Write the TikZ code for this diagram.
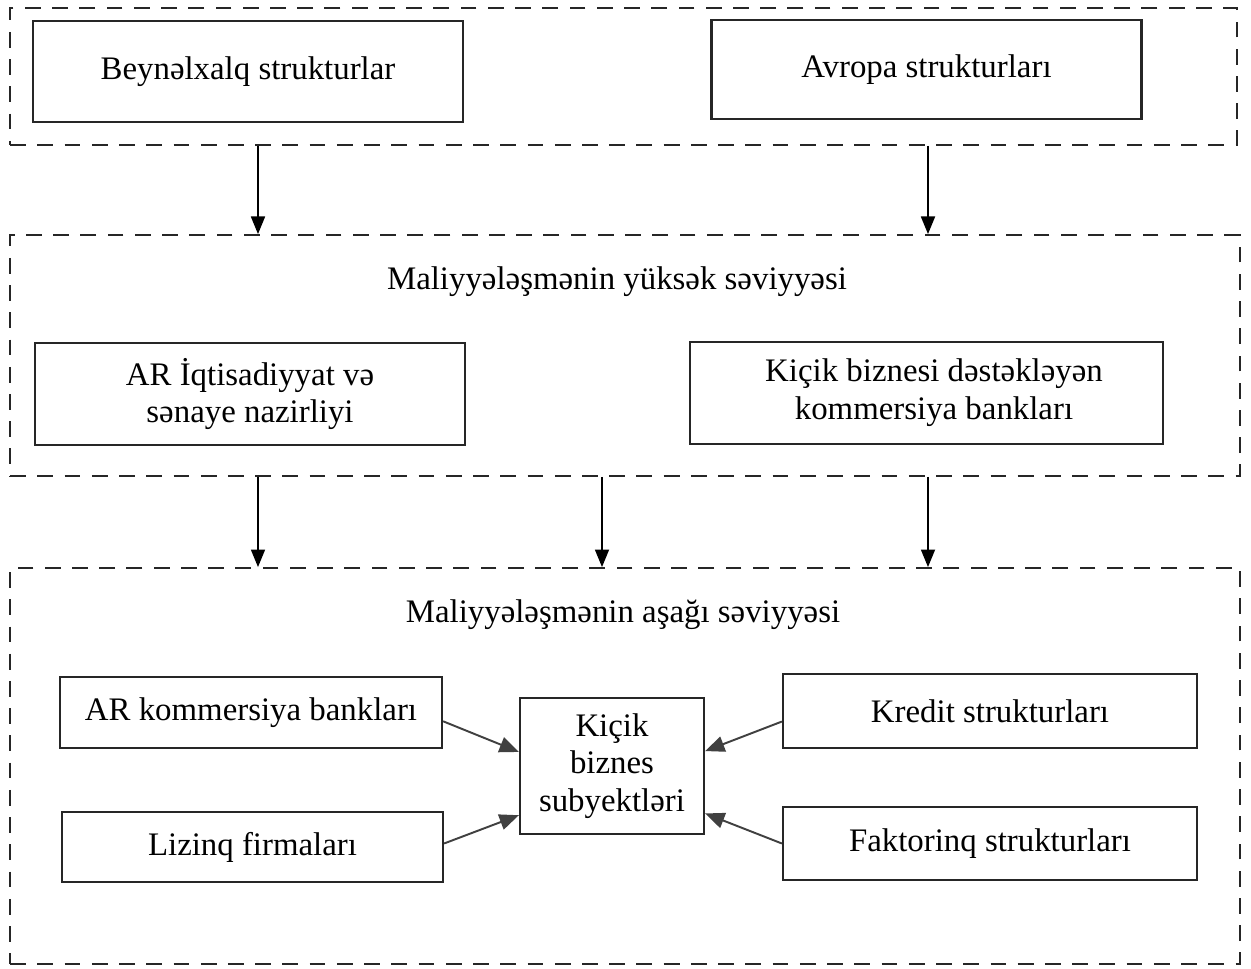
\documentclass[tikz,border=0pt]{standalone}
\usepackage{fontspec}
\setmainfont{Liberation Serif}
\usepackage{tikz}
\usetikzlibrary{arrows.meta}
\usetikzlibrary{shapes}

\tikzset{
  zone/.style={draw=black!85, line width=1.1pt, dash pattern=on 9pt off 6.5pt, inner sep=0pt},
  box/.style={draw=black!85, line width=1.3pt, fill=white, align=center, inner sep=0pt,
    font=\fontsize{18.7}{21.5}\selectfont},
  title/.style={font=\fontsize{18.7}{21.5}\selectfont},
  arr/.style={line width=0.9pt, -{Triangle[length=10pt,width=8pt]}},
  slant/.style={line width=1.1pt, draw=black!75, -{Triangle[length=11pt,width=9pt]}}
}

\begin{document}
\begin{tikzpicture}[x=0.02cm, y=-0.02cm]
\useasboundingbox (0,0) rectangle (1251,969);
% zones
\node[zone, minimum width=24.54cm, minimum height=2.74cm] (zoneA) at (623.5,76.5) {};
\node[zone, minimum width=24.6cm, minimum height=4.82cm] (zoneB) at (625,355.5) {};
\node[zone, minimum width=24.6cm, minimum height=7.92cm] (zoneC) at (625,766) {};
\coordinate (colA) at (258,0);
\coordinate (colB) at (602,0);
\coordinate (colC) at (928,0);
% top level
\node[box, minimum width=8.6cm, minimum height=2.02cm] (intl) at (248,71.5) {Beynəlxalq strukturlar};
\node[box, minimum width=8.6cm, minimum height=1.98cm] (euro) at (926.5,69.5) {Avropa strukturları};
% high level
\node[title] (highT) at (617,282) {Maliyyələşmənin yüksək səviyyəsi};
\node[box, minimum width=8.6cm, minimum height=2.04cm] (ministry) at (250,394) {AR İqtisadiyyat və\\sənaye nazirliyi};
\node[box, minimum width=9.46cm, minimum height=2.04cm] (smeBanks) at (926.5,393) {\hspace{0.3cm}Kiçik biznesi dəstəkləyən\\\hspace{0.3cm}kommersiya bankları};
% low level
\node[title] (lowT) at (623,615) {Maliyyələşmənin aşağı səviyyəsi};
\node[box, minimum width=7.64cm, minimum height=1.42cm] (arBanks) at (251,712.5) {AR kommersiya bankları};
\node[box, minimum width=7.62cm, minimum height=1.4cm] (leasing) at (252.5,847) {Lizinq firmaları};
\node[box, minimum width=3.68cm, minimum height=2.72cm] (sme) at (612,766) {Kiçik\\biznes\\subyektləri};
\node[box, minimum width=8.28cm, minimum height=1.48cm] (credit) at (990,711) {Kredit strukturları};
\node[box, minimum width=8.28cm, minimum height=1.46cm] (factor) at (990,843.5) {Faktorinq strukturları};

\draw[arr] (zoneA.south -| colA) -- (zoneB.north -| colA);
\draw[arr] (zoneA.south -| colC) -- (zoneB.north -| colC);
\draw[arr] (zoneB.south -| colA) -- (zoneC.north -| colA);
\draw[arr] (zoneB.south -| colB) -- (zoneC.north -| colB);
\draw[arr] (zoneB.south -| colC) -- (zoneC.north -| colC);

\draw[slant] ([yshift=-5pt]arBanks.east) -- ([yshift=8pt]sme.west);
\draw[slant] ([yshift=2pt]leasing.east) -- ([yshift=-28pt]sme.west);
\draw[slant] ([yshift=-6pt]credit.west) -- ([yshift=8.5pt]sme.east);
\draw[slant] (factor.west) -- ([yshift=-27pt]sme.east);
\end{tikzpicture}
\end{document}
